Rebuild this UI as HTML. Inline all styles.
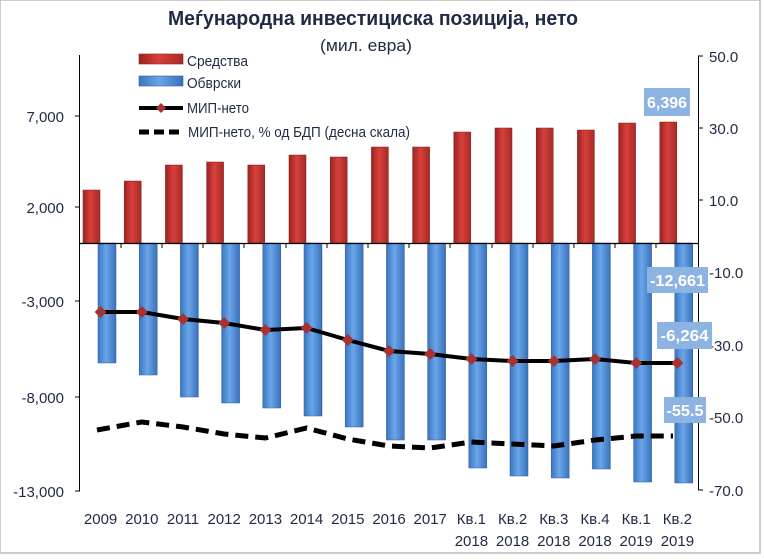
<!DOCTYPE html>
<html><head><meta charset="utf-8"><style>
html,body{margin:0;padding:0;background:#fff;}
svg{display:block;font-family:"Liberation Sans",sans-serif;}
</style></head><body>
<svg width="764" height="560" viewBox="0 0 764 560" xmlns="http://www.w3.org/2000/svg">
<defs>
<linearGradient id="rg" x1="0" x2="1" y1="0" y2="0">
<stop offset="0" stop-color="#9b2220"/><stop offset="0.45" stop-color="#d8403c"/><stop offset="1" stop-color="#a52a26"/></linearGradient>
<linearGradient id="bg" x1="0" x2="1" y1="0" y2="0">
<stop offset="0" stop-color="#3a74c4"/><stop offset="0.45" stop-color="#6aa6e8"/><stop offset="1" stop-color="#3a70bc"/></linearGradient>
</defs>
<rect x="0" y="0" width="760" height="553" fill="#fff" stroke="#bbb" stroke-width="1.5"/>
<text x="373" y="25" text-anchor="middle" font-size="20" font-weight="bold" fill="#1f2a44" textLength="410" lengthAdjust="spacingAndGlyphs">Меѓународна инвестициска позиција, нето</text>
<text x="366" y="51" text-anchor="middle" font-size="17" fill="#1f2a44" textLength="92" lengthAdjust="spacingAndGlyphs">(мил. евра)</text>
<!-- legend -->
<rect x="139" y="54" width="44" height="10" fill="url(#rg)" stroke="#8a1f1c" stroke-width="0.6"/>
<text x="187" y="66" font-size="15" fill="#1f2a44" textLength="61" lengthAdjust="spacingAndGlyphs">Средства</text>
<rect x="139" y="76" width="44" height="10" fill="url(#bg)" stroke="#2f5f9e" stroke-width="0.6"/>
<text x="187" y="88" font-size="15" fill="#1f2a44" textLength="54" lengthAdjust="spacingAndGlyphs">Обврски</text>
<line x1="139" y1="108" x2="183" y2="108" stroke="#000" stroke-width="4"/>
<polygon points="161,103 166,108 161,113 156,108" fill="#a83232"/>
<text x="187" y="113" font-size="15" fill="#1f2a44" textLength="62" lengthAdjust="spacingAndGlyphs">МИП-нето</text>
<line x1="139" y1="132" x2="183" y2="132" stroke="#000" stroke-width="5" stroke-dasharray="10,5"/>
<text x="188" y="137" font-size="15" fill="#1f2a44" textLength="222" lengthAdjust="spacingAndGlyphs">МИП-нето, % од БДП (десна скала)</text>
<!-- axes -->
<line x1="79.5" y1="55" x2="79.5" y2="491" stroke="#000" stroke-width="1"/>
<g stroke="#000"><line x1="75" y1="116" x2="80" y2="116"/><line x1="75" y1="207" x2="80" y2="207"/><line x1="75" y1="301" x2="80" y2="301"/><line x1="75" y1="397" x2="80" y2="397"/><line x1="75" y1="491" x2="80" y2="491"/></g>
<g font-size="15" fill="#1f2a44" text-anchor="end">
<text x="64" y="122">7,000</text><text x="64" y="213">2,000</text><text x="64" y="307">-3,000</text><text x="64" y="403">-8,000</text><text x="64" y="497">-13,000</text></g>
<line x1="698.5" y1="56" x2="698.5" y2="490" stroke="#000"/>
<g stroke="#000"><line x1="698" y1="56" x2="703" y2="56"/><line x1="698" y1="128" x2="703" y2="128"/><line x1="698" y1="200" x2="703" y2="200"/><line x1="698" y1="272" x2="703" y2="272"/><line x1="698" y1="345" x2="703" y2="345"/><line x1="698" y1="417" x2="703" y2="417"/><line x1="698" y1="490" x2="703" y2="490"/></g>
<g font-size="15" fill="#1f2a44">
<text x="709" y="62">50.0</text><text x="709" y="134">30.0</text><text x="709" y="206">10.0</text><text x="709" y="278">-10.0</text><text x="709" y="351">-30.0</text><text x="709" y="423">-50.0</text><text x="709" y="496">-70.0</text></g>
<!-- red bars -->
<g fill="url(#rg)" stroke="#8a1f1c" stroke-width="0.5">
<rect x="83" y="190" width="17" height="53"/>
<rect x="124.2" y="181" width="17" height="62"/>
<rect x="165.4" y="165" width="17" height="78"/>
<rect x="206.6" y="162" width="17" height="81"/>
<rect x="247.8" y="165" width="17" height="78"/>
<rect x="289" y="155" width="17" height="88"/>
<rect x="330.2" y="157" width="17" height="86"/>
<rect x="371.4" y="147" width="17" height="96"/>
<rect x="412.6" y="147" width="17" height="96"/>
<rect x="453.8" y="132" width="17" height="111"/>
<rect x="495" y="128" width="17" height="115"/>
<rect x="536.2" y="128" width="17" height="115"/>
<rect x="577.4" y="130" width="17" height="113"/>
<rect x="618.6" y="123" width="17" height="120"/>
<rect x="659.8" y="122" width="17" height="121"/>
</g>
<!-- blue bars -->
<g fill="url(#bg)" stroke="#2f5f9e" stroke-width="0.5">
<rect x="98" y="243" width="18" height="120"/>
<rect x="139.2" y="243" width="18" height="132"/>
<rect x="180.4" y="243" width="18" height="154"/>
<rect x="221.6" y="243" width="18" height="160"/>
<rect x="262.8" y="243" width="18" height="165"/>
<rect x="304" y="243" width="18" height="173"/>
<rect x="345.2" y="243" width="18" height="184"/>
<rect x="386.4" y="243" width="18" height="197"/>
<rect x="427.6" y="243" width="18" height="197"/>
<rect x="468.8" y="243" width="18" height="225"/>
<rect x="510" y="243" width="18" height="233"/>
<rect x="551.2" y="243" width="18" height="235"/>
<rect x="592.4" y="243" width="18" height="226"/>
<rect x="633.6" y="243" width="18" height="239"/>
<rect x="674.8" y="243" width="18" height="240"/>
</g>
<line x1="79" y1="243.5" x2="698" y2="243.5" stroke="#000" stroke-width="1.2"/>
<g stroke="#000"><line x1="121" y1="243" x2="121" y2="248"/><line x1="162" y1="243" x2="162" y2="248"/><line x1="203" y1="243" x2="203" y2="248"/><line x1="244" y1="243" x2="244" y2="248"/><line x1="286" y1="243" x2="286" y2="248"/><line x1="327" y1="243" x2="327" y2="248"/><line x1="368" y1="243" x2="368" y2="248"/><line x1="409" y1="243" x2="409" y2="248"/><line x1="450" y1="243" x2="450" y2="248"/><line x1="492" y1="243" x2="492" y2="248"/><line x1="533" y1="243" x2="533" y2="248"/><line x1="574" y1="243" x2="574" y2="248"/><line x1="615" y1="243" x2="615" y2="248"/><line x1="656" y1="243" x2="656" y2="248"/></g>
<!-- lines -->
<polyline fill="none" stroke="#000" stroke-width="4" points="100.6,312 141.8,312 183,319 224.2,323 265.4,330 306.6,328 347.8,340 389,351 430.2,354 471.4,359 512.6,361 553.8,361 595,359 636.2,363 677.4,363"/>
<g fill="#a83232">
<polygon points="100.6,306 106.6,312 100.6,318 94.6,312"/><polygon points="141.8,306 147.8,312 141.8,318 135.8,312"/><polygon points="183,313 189,319 183,325 177,319"/><polygon points="224.2,317 230.2,323 224.2,329 218.2,323"/><polygon points="265.4,324 271.4,330 265.4,336 259.4,330"/><polygon points="306.6,322 312.6,328 306.6,334 300.6,328"/><polygon points="347.8,334 353.8,340 347.8,346 341.8,340"/><polygon points="389,345 395,351 389,357 383,351"/><polygon points="430.2,348 436.2,354 430.2,360 424.2,354"/><polygon points="471.4,353 477.4,359 471.4,365 465.4,359"/><polygon points="512.6,355 518.6,361 512.6,367 506.6,361"/><polygon points="553.8,355 559.8,361 553.8,367 547.8,361"/><polygon points="595,353 601,359 595,365 589,359"/><polygon points="636.2,357 642.2,363 636.2,369 630.2,363"/><polygon points="677.4,357 683.4,363 677.4,369 671.4,363"/></g>
<polyline fill="none" stroke="#000" stroke-width="5" stroke-dasharray="13,7" points="97,430 141.8,422 183,427 224.2,434 265.4,438 306.6,428 347.8,439 389,446 430.2,448 471.4,442 512.6,444 553.8,446 595,440 636.2,436 673,436"/>
<!-- data labels -->
<g font-size="16" font-weight="bold" fill="#fff">
<rect x="644" y="88" width="46" height="28" fill="#8db3e2"/><text x="667" y="108" text-anchor="middle" textLength="40" lengthAdjust="spacingAndGlyphs">6,396</text>
<rect x="647" y="267" width="61" height="26" fill="#8db3e2"/><text x="677.5" y="286" text-anchor="middle" textLength="55" lengthAdjust="spacingAndGlyphs">-12,661</text>
<rect x="657" y="322" width="55" height="27" fill="#8db3e2"/><text x="684.5" y="341" text-anchor="middle" textLength="48" lengthAdjust="spacingAndGlyphs">-6,264</text>
<rect x="664" y="397" width="42" height="26" fill="#8db3e2"/><text x="685" y="416" text-anchor="middle" textLength="37" lengthAdjust="spacingAndGlyphs">-55.5</text>
</g>
<!-- x labels -->
<g font-size="15" fill="#1f2a44" text-anchor="middle">
<text x="100.6" y="524">2009</text><text x="141.8" y="524">2010</text><text x="183" y="524">2011</text><text x="224.2" y="524">2012</text><text x="265.4" y="524">2013</text><text x="306.6" y="524">2014</text><text x="347.8" y="524">2015</text><text x="389" y="524">2016</text><text x="430.2" y="524">2017</text>
<text x="471.4" y="524">Кв.1</text><text x="471.4" y="546">2018</text>
<text x="512.6" y="524">Кв.2</text><text x="512.6" y="546">2018</text>
<text x="553.8" y="524">Кв.3</text><text x="553.8" y="546">2018</text>
<text x="595" y="524">Кв.4</text><text x="595" y="546">2018</text>
<text x="636.2" y="524">Кв.1</text><text x="636.2" y="546">2019</text>
<text x="677.4" y="524">Кв.2</text><text x="677.4" y="546">2019</text>
</g>
</svg>
</body></html>
